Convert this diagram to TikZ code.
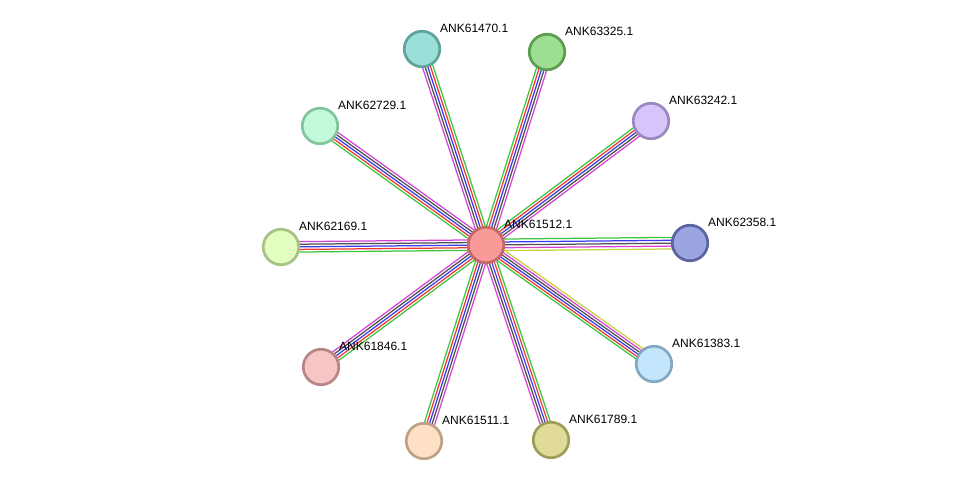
\documentclass[tikz,border=0pt]{standalone}
\usepackage{fontspec}
\setmainfont{Liberation Sans}
\usetikzlibrary{calc,backgrounds}

\definecolor{lnkgreen}{HTML}{3DC63D}
\definecolor{lnkred}{HTML}{EC3A32}
\definecolor{lnkblue}{HTML}{3B3BEE}
\definecolor{lnkdark}{HTML}{505050}
\definecolor{lnkmag}{HTML}{D444D4}
\definecolor{lnkyel}{HTML}{C6D23C}

\begin{document}
\begin{tikzpicture}[x=1pt,y=-1pt,
    prot/.style={circle,draw,line width=2.7pt,minimum size=35.5pt,inner sep=0pt},
    lab/.style={anchor=west,inner sep=0pt,font=\fontsize{12}{12}\selectfont},
    lnk/.style={line width=1.25pt}]
  \useasboundingbox (0,0) rectangle (976,487);
  % proteins: id/x/y/fill/border
  \foreach \id/\px/\py/\fc/\bc in {
      61512/486/245/FA9A98/C46866,
      61470/422/49/9ADFD8/5EA39C,
      63325/547/52/9EDE92/5C9D52,
      62729/320/126/C2F9DA/82C49E,
      63242/651/121/D6C5FB/9A89C0,
      62169/281/247/E3FDC0/A5C385,
      62358/690/243/9BA6E0/5B64A0,
      61846/321/367/F6C6C6/B88585,
      61383/654/364/C3E6FC/83A8C1,
      61511/424/441/FDE0C5/C0A286,
      61789/551/440/E0DB99/A09D59}{
    \definecolor{fillc}{HTML}{\fc}
    \definecolor{bordc}{HTML}{\bc}
    \node[prot,fill=fillc,draw=bordc] (p\id) at (\px,\py) {};
    \node[lab] (l\id) at ($(p\id.center)+(18,-21)$) {ANK\id.1};
  }
  % evidence lines, one per channel
  \begin{pgfonlayer}{background}
    \foreach \a/\b in {p61470/p61512,p61511/p61512,p61512/p63325,p61512/p62729,
        p61512/p63242,p61512/p62169,p61512/p61846,p61512/p61789}
      \foreach \k/\c in {-2/lnkmag,-1/lnkdark,0/lnkblue,1/lnkred,2/lnkgreen}
        \draw[lnk,\c] ($(\a)!\k*2.6pt!90:(\b)$) -- ($(\b)!\k*2.6pt!-90:(\a)$);
    \foreach \k/\c in {-2.5/lnkyel,-1.5/lnkmag,-0.5/lnkdark,0.5/lnkblue,1.5/lnkred,2.5/lnkgreen}
      \draw[lnk,\c] ($(p61383)!\k*2.5pt!90:(p61512)$) -- ($(p61512)!\k*2.5pt!-90:(p61383)$);
    \foreach \k/\c in {-2/lnkyel,-1/lnkmag,0/lnkdark,1/lnkblue,2/lnkgreen}
      \draw[lnk,\c] ($(p61512)!\k*2.9pt!90:(p62358)$) -- ($(p62358)!\k*2.9pt!-90:(p61512)$);
  \end{pgfonlayer}
\end{tikzpicture}
\end{document}
